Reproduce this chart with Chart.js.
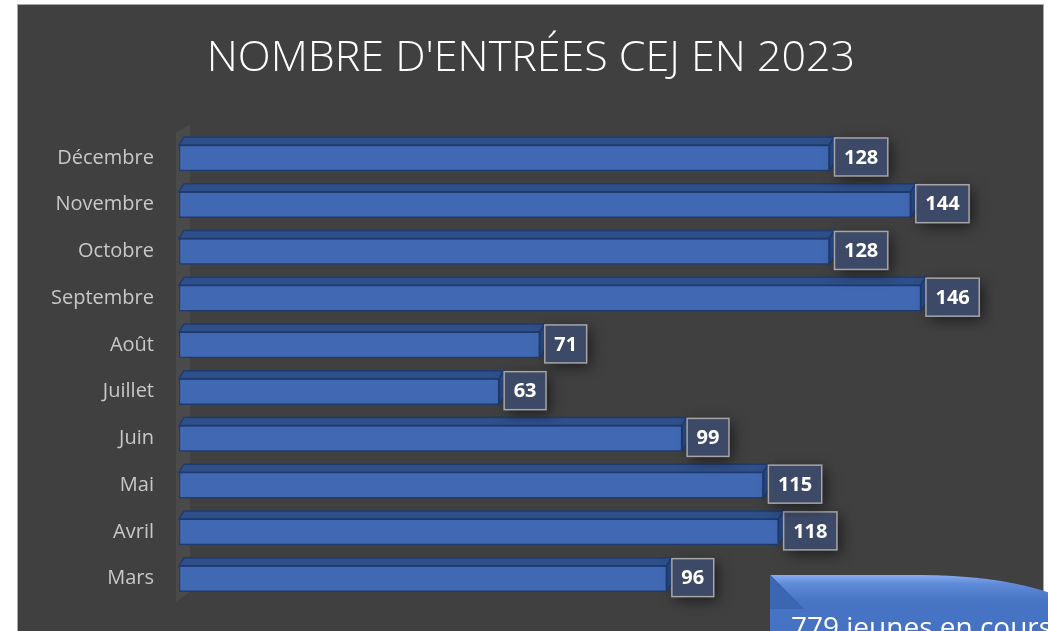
<!DOCTYPE html>
<html>
<head>
<meta charset="utf-8">
<script src="https://cdn.jsdelivr.net/npm/chart.js@4/dist/chart.umd.min.js"></script>
<style>
  html, body { margin: 0; padding: 0; background: #ffffff; overflow: hidden; }
  body { width: 1048px; height: 631px; position: relative; }
  #frame {
    position: absolute; left: 17px; top: 4px; width: 1025px; height: 640px;
    background: #404040; border: 1px solid #a9a9a9;
  }
  #wrap { position: absolute; left: 0; top: 0; width: 1048px; height: 631px; }
  #callout {
    position: absolute; left: 770px; top: 575px; width: 320px; height: 80px;
    border-top-right-radius: 170px 50px;
    background: linear-gradient(to bottom, #86abf0 0px, #5e8ad8 9px, #4874c5 26px, #4270c0 100%);
    overflow: hidden;
  }
  #callout .bevel {
    position: absolute; left: 0; top: 0; width: 34px; height: 34px;
    background: linear-gradient(225deg, transparent 50%, #3d66b2 50%);
  }
  #callout span {
    position: absolute; left: 21px; top: 32px; white-space: nowrap;
    color: #ffffff; font: 28px "Open Sans", sans-serif;
  }
</style>
</head>
<body>
<div id="frame"></div>
<div id="wrap"><canvas id="cej"></canvas></div>
<div id="callout"><div class="bevel"></div><span>779 jeunes en cours</span></div>
<script>
// données
const mois = ['Mars', 'Avril', 'Mai', 'Juin', 'Juillet', 'Août', 'Septembre', 'Octobre', 'Novembre', 'Décembre'];
const entrees = [96, 118, 115, 99, 63, 71, 146, 128, 144, 128];
const titre = "NOMBRE D'ENTRÉES CEJ EN 2023";
const maxAxe = 171;

const ctx = document.getElementById('cej').getContext('2d');

// profondeur de l'effet 3D
const dx = 5, dy = 8;

const mur3d = {
  id: 'mur3d',
  beforeDatasetsDraw(chart) {
    const a = chart.chartArea;
    const c = chart.ctx;
    c.save();
    c.fillStyle = '#4a4a4a';
    c.beginPath();
    c.moveTo(a.left - 3, a.top - 2);
    c.lineTo(a.left + 11, a.top - 10);
    c.lineTo(a.left + 11, a.bottom - 10);
    c.lineTo(a.left - 3, a.bottom);
    c.closePath();
    c.fill();
    c.restore();
  }
};

const barres3d = {
  id: 'barres3d',
  afterDatasetsDraw(chart) {
    const c = chart.ctx;
    const meta = chart.getDatasetMeta(0);
    c.save();
    meta.data.forEach((bar, i) => {
      const p = bar.getProps(['x', 'y', 'base', 'height'], true);
      const x0 = p.base, x1 = p.x;
      const y0 = p.y - p.height / 2, y1 = p.y + p.height / 2;
      c.lineWidth = 1.5;
      c.strokeStyle = '#1f3b6e';
      // dessus
      c.fillStyle = '#2f4f8a';
      c.beginPath();
      c.moveTo(x0, y0);
      c.lineTo(x0 + dx, y0 - dy);
      c.lineTo(x1 + dx, y0 - dy);
      c.lineTo(x1, y0);
      c.closePath();
      c.fill();
      c.stroke();
      // côté droit
      c.fillStyle = '#2a4a84';
      c.beginPath();
      c.moveTo(x1, y0);
      c.lineTo(x1 + dx, y0 - dy);
      c.lineTo(x1 + dx, y1 - dy);
      c.lineTo(x1, y1);
      c.closePath();
      c.fill();
      c.stroke();
    });
    c.restore();
  }
};

const etiquettes = {
  id: 'etiquettes',
  afterDatasetsDraw(chart) {
    const c = chart.ctx;
    const meta = chart.getDatasetMeta(0);
    c.save();
    c.font = 'bold 20px "Open Sans", sans-serif';
    meta.data.forEach((bar, i) => {
      const txt = String(entrees[i]);
      const w = c.measureText(txt).width + 19;
      const h = 38;
      const bx = bar.x + dx;
      const by = bar.y - h / 2 - 1;
      c.shadowColor = 'rgba(0,0,0,0.55)';
      c.shadowBlur = 14;
      c.shadowOffsetX = 4;
      c.shadowOffsetY = 4;
      c.fillStyle = '#3d4a67';
      c.fillRect(bx, by, w, h);
      c.shadowColor = 'transparent';
      c.lineWidth = 1.5;
      c.strokeStyle = '#a6a6a6';
      c.strokeRect(bx, by, w, h);
      c.fillStyle = '#ffffff';
      c.textAlign = 'center';
      c.textBaseline = 'middle';
      c.fillText(txt, bx + w / 2, by + h / 2 + 1);
    });
    c.restore();
  }
};

function dessiner() {
  new Chart(ctx, {
    type: 'bar',
    data: {
      labels: mois,
      datasets: [{
        data: entrees,
        backgroundColor: '#4169b3',
        borderColor: '#1f3b6e',
        borderWidth: 1.5,
        borderSkipped: false,
        barThickness: 26
      }]
    },
    options: {
      indexAxis: 'y',
      responsive: false,
      animation: false,
      layout: { padding: { left: 14, right: 0, top: 0, bottom: 29 } },
      plugins: {
        legend: { display: false },
        tooltip: { enabled: false },
        title: {
          display: true,
          text: titre,
          color: '#ffffff',
          font: { family: 'Open Sans', size: 43, weight: 300 },
          padding: { top: 33, bottom: 50 }
        }
      },
      scales: {
        x: { display: false, min: 0, max: maxAxe },
        y: {
          reverse: true,
          grid: { display: false, drawTicks: false },
          border: { display: false },
          ticks: { color: '#c8c8c8', padding: 25, font: { family: 'Open Sans', size: 20 } },
          afterFit(scale) {
            scale.width = 165;
            scale.paddingTop = 0;
            scale.paddingBottom = 0;
          }
        }
      }
    },
    plugins: [mur3d, barres3d, etiquettes]
  });
}

const cv = document.getElementById('cej');
cv.width = 1048;
cv.height = 631;
document.fonts.load('300 43px "Open Sans"').then(dessiner, dessiner);
</script>
</body>
</html>
